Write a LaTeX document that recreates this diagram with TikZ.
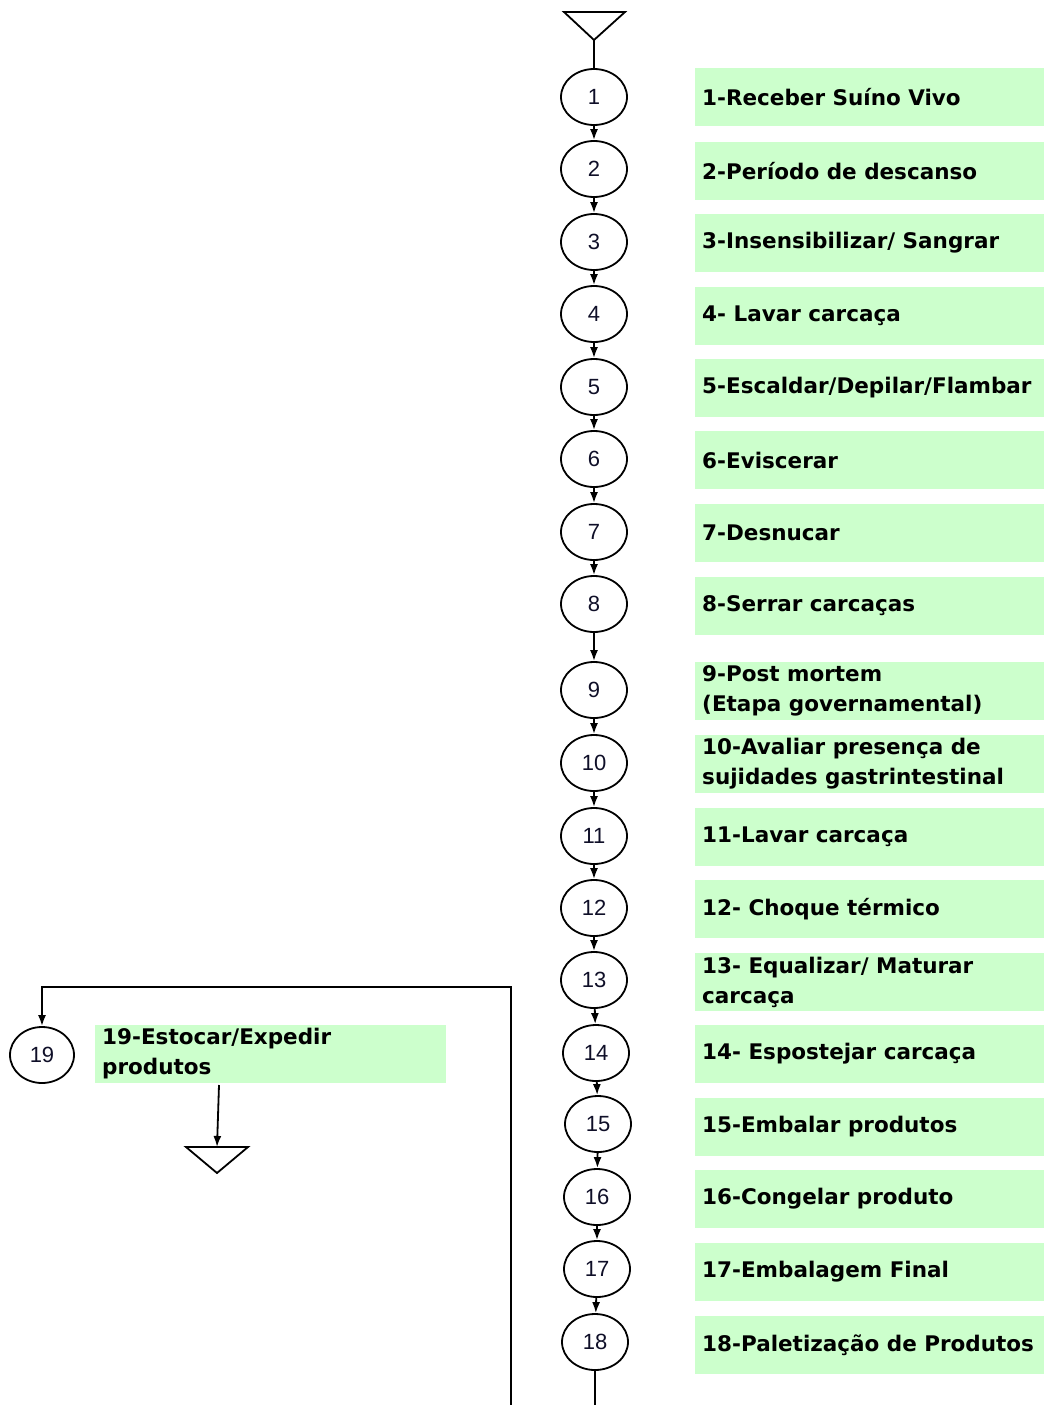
\documentclass[tikz,border=0pt]{standalone}
\usepackage{fontspec}
\setmainfont{DejaVu Sans}
\newfontfamily\numfont{Liberation Sans}
\usetikzlibrary{shapes.geometric,arrows.meta}
\definecolor{boxgreen}{RGB}{204,255,204}
\definecolor{numcol}{RGB}{15,15,40}
\tikzset{
  stepnode/.style={draw, ellipse, line width=1.8pt, minimum width=66pt, minimum height=56pt, inner sep=0pt, font=\numfont\fontsize{22}{26}\selectfont, text=numcol},
  gbox/.style={fill=boxgreen, draw=none, anchor=west, minimum width=349pt, minimum height=58pt, inner sep=0pt},
  gtext/.style={anchor=west, inner xsep=7pt, inner ysep=0pt, align=left, font=\bfseries\fontsize{21.5}{30}\selectfont},
  arr/.style={line width=1.8pt, -{Latex[length=11pt,width=8pt]}},
  ln/.style={line width=1.8pt},
  endtri/.style={line width=1.8pt, line join=miter}
}
\begin{document}
\begin{tikzpicture}[x=1pt,y=-1pt]
\useasboundingbox (0,0) rectangle (1044,1405);
% top triangle
\coordinate (ta) at (564,12);
\coordinate (tb) at (625,12);
\coordinate (tc) at (594,40);
\draw[endtri] (ta) -- (tb) -- (tc) -- cycle;
% ellipses
\node[stepnode] (e1) at (594,97) {1};
\node[stepnode] (e2) at (594,169) {2};
\node[stepnode] (e3) at (594,242) {3};
\node[stepnode] (e4) at (594,314) {4};
\node[stepnode] (e5) at (594,387) {5};
\node[stepnode] (e6) at (594,459) {6};
\node[stepnode] (e7) at (594,532) {7};
\node[stepnode] (e8) at (594,604) {8};
\node[stepnode] (e9) at (594,690) {9};
\node[stepnode] (e10) at (594,763) {10};
\node[stepnode] (e11) at (594,836) {11};
\node[stepnode] (e12) at (594,908) {12};
\node[stepnode] (e13) at (594,980) {13};
\node[stepnode] (e14) at (596,1053) {14};
\node[stepnode] (e15) at (598,1124) {15};
\node[stepnode] (e16) at (597,1197) {16};
\node[stepnode] (e17) at (597,1269) {17};
\node[stepnode] (e18) at (595,1342) {18};
\node[stepnode, minimum width=64pt] (e19) at (42,1055) {19};
% connectors
\draw[ln] (tc) -- (e1.north);
\draw[arr] (e1) -- (e2);
\draw[arr] (e2) -- (e3);
\draw[arr] (e3) -- (e4);
\draw[arr] (e4) -- (e5);
\draw[arr] (e5) -- (e6);
\draw[arr] (e6) -- (e7);
\draw[arr] (e7) -- (e8);
\draw[arr] (e8) -- (e9);
\draw[arr] (e9) -- (e10);
\draw[arr] (e10) -- (e11);
\draw[arr] (e11) -- (e12);
\draw[arr] (e12) -- (e13);
\draw[arr] (e13) -- (e14);
\draw[arr] (e14) -- (e15);
\draw[arr] (e15) -- (e16);
\draw[arr] (e16) -- (e17);
\draw[arr] (e17) -- (e18);
\coordinate (bot18) at (595,1405);
\draw[ln] (e18) -- (bot18);
\coordinate (loopstart) at (511,1405);
\coordinate (loopcorner) at (511,987);
\draw[arr] (loopstart) -- (loopcorner) -| (e19.north);
% green boxes and texts
\node[gbox] (b1) at (695,97) {};
\node[gtext] (t1) at (b1.west) {1-Receber Suíno Vivo};
\node[gbox] (b2) at (695,171) {};
\node[gtext] (t2) at (b2.west) {2-Período de descanso};
\node[gbox] (b3) at (695,243) {};
\node[gtext] (t3) at (b3.west) {3-Insensibilizar/ Sangrar};
\node[gbox] (b4) at (695,316) {};
\node[gtext] (t4) at (b4.west) {4- Lavar carcaça};
\node[gbox] (b5) at (695,388) {};
\node[gtext] (t5) at (b5.west) {5-Escaldar/Depilar/Flambar};
\node[gbox] (b6) at (695,460) {};
\node[gtext] (t6) at (b6.west) {6-Eviscerar};
\node[gbox] (b7) at (695,533) {};
\node[gtext] (t7) at (b7.west) {7-Desnucar};
\node[gbox] (b8) at (695,606) {};
\node[gtext] (t8) at (b8.west) {8-Serrar carcaças};
\node[gbox] (b9) at (695,691) {};
\node[gtext] (t9) at (b9.west) {9-Post mortem\\(Etapa governamental)};
\node[gbox] (b10) at (695,764) {};
\node[gtext] (t10) at (b10.west) {10-Avaliar presença de\\sujidades gastrintestinal};
\node[gbox] (b11) at (695,837) {};
\node[gtext] (t11) at (b11.west) {11-Lavar carcaça};
\node[gbox] (b12) at (695,909) {};
\node[gtext] (t12) at (b12.west) {12- Choque térmico};
\node[gbox] (b13) at (695,982) {};
\node[gtext] (t13) at (b13.west) {13- Equalizar/ Maturar\\carcaça};
\node[gbox] (b14) at (695,1054) {};
\node[gtext] (t14) at (b14.west) {14- Espostejar carcaça};
\node[gbox] (b15) at (695,1127) {};
\node[gtext] (t15) at (b15.west) {15-Embalar produtos};
\node[gbox] (b16) at (695,1199) {};
\node[gtext] (t16) at (b16.west) {16-Congelar produto};
\node[gbox] (b17) at (695,1272) {};
\node[gtext] (t17) at (b17.west) {17-Embalagem Final};
\node[gbox] (b18) at (695,1345) {};
\node[gtext] (t18) at (b18.west) {18-Paletização de Produtos};
\node[gbox, minimum width=351pt] (b19) at (95,1054) {};
\node[gtext] (t19) at (b19.west) {19-Estocar/Expedir\\produtos};
% end triangle
\coordinate (ea) at (186,1147);
\coordinate (eb) at (248,1147);
\coordinate (ec) at (217,1173);
\draw[endtri] (ea) -- (eb) -- (ec) -- cycle;
\coordinate (b19out) at (219,1085);
\draw[arr] (b19out) -- (217,1147);
\end{tikzpicture}
\end{document}
